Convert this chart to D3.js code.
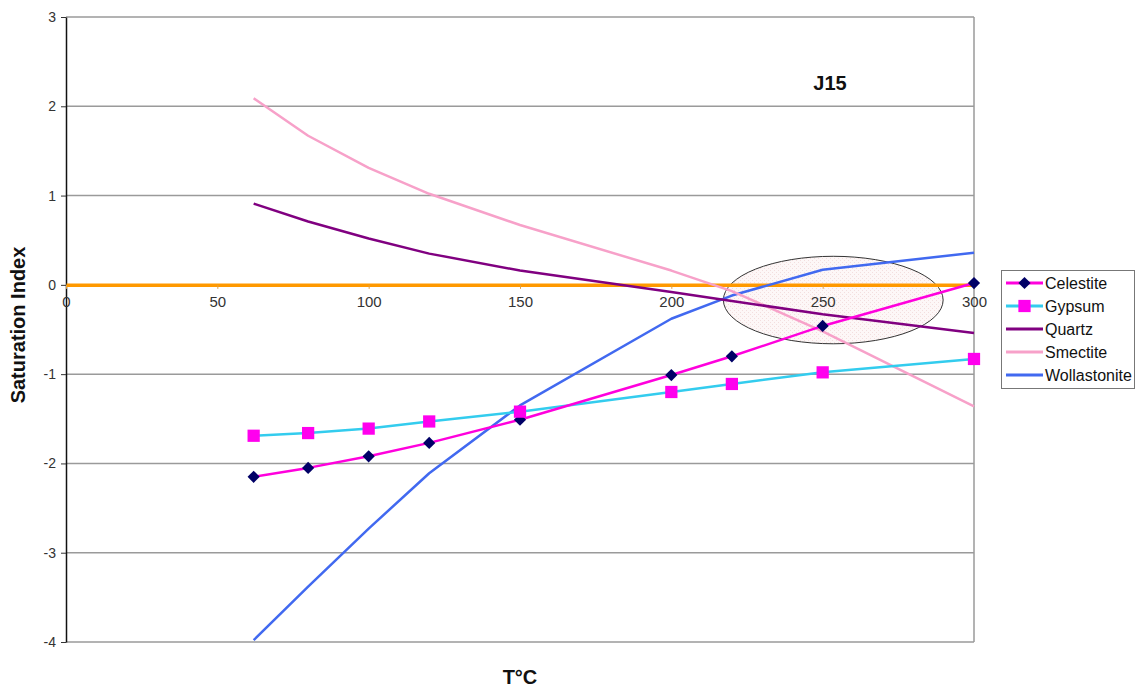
<!DOCTYPE html>
<html><head><meta charset="utf-8">
<script src="https://cdn.jsdelivr.net/npm/d3@7"></script>
<style>body{margin:0;background:#fff;} svg{display:block;font-family:"Liberation Sans",Arial,sans-serif;}</style>
</head><body>
<svg id="c" width="1136" height="689"></svg>
<script>
const temps = [62, 80, 100, 120, 150, 200, 220, 250, 300];
const celestite = [-2.15, -2.05, -1.92, -1.77, -1.51, -1.01, -0.80, -0.46, 0.02];
const gypsum = [-1.69, -1.66, -1.61, -1.53, -1.42, -1.20, -1.11, -0.98, -0.83];
const quartz = [0.91, 0.71, 0.52, 0.35, 0.16, -0.08, -0.18, -0.33, -0.54];
const smectite = [2.09, 1.67, 1.31, 1.02, 0.67, 0.16, -0.07, -0.52, -1.36];
const wollastonite = [-3.98, -3.38, -2.73, -2.11, -1.35, -0.38, -0.12, 0.17, 0.36];
const seriesNames = ["Celestite", "Gypsum", "Quartz", "Smectite", "Wollastonite"];
const xTicks = [0, 50, 100, 150, 200, 250, 300];
const yTicks = [-4, -3, -2, -1, 0, 1, 2, 3];
const wellLabel = "J15";
const highlight = {cx: 253.5, cy: -0.17, rx: 36.3, ry: 0.49};

const series = [
  {name: "Celestite", values: celestite, color: "#ff00dd", marker: "diamond", mcolor: "#000066"},
  {name: "Gypsum", values: gypsum, color: "#33ccee", marker: "square", mcolor: "#ff00ee"},
  {name: "Quartz", values: quartz, color: "#800080", marker: null},
  {name: "Smectite", values: smectite, color: "#f7a1c9", marker: null},
  {name: "Wollastonite", values: wollastonite, color: "#4169f0", marker: null}
];

const svg = d3.select("#c");
const x = d3.scaleLinear().domain([0, 300]).range([66, 974]);
const y = d3.scaleLinear().domain([-4, 3]).range([642, 17]);
const fmt = d => String(d);

// gridlines
svg.append("g").selectAll("line").data(yTicks.filter(d => d !== 0)).join("line")
  .attr("x1", x(0)).attr("x2", x(300)).attr("y1", d => y(d)).attr("y2", d => y(d))
  .attr("stroke", "#9a9a9a").attr("stroke-width", 1.5);
// right border
svg.append("line").attr("x1", x(300)).attr("x2", x(300)).attr("y1", y(3)).attr("y2", y(-4))
  .attr("stroke", "#9a9a9a").attr("stroke-width", 1.5);

// pattern for ellipse
const defs = svg.append("defs");
const pat = defs.append("pattern").attr("id", "dots").attr("width", 4).attr("height", 4)
  .attr("patternUnits", "userSpaceOnUse");
pat.append("rect").attr("width", 4).attr("height", 4).attr("fill", "#fdf7f7");
pat.append("rect").attr("width", 1).attr("height", 1).attr("fill", "#f3dede");
pat.append("rect").attr("x", 2).attr("y", 2).attr("width", 1).attr("height", 1).attr("fill", "#f3dede");

svg.append("ellipse")
  .attr("cx", x(highlight.cx)).attr("cy", y(highlight.cy))
  .attr("rx", x(highlight.rx) - x(0)).attr("ry", y(0) - y(highlight.ry))
  .attr("fill", "url(#dots)")
  .attr("stroke", "#333").attr("stroke-width", 1);

// y axis
const yAxis = svg.append("g").attr("transform", `translate(${x(0)},0)`)
  .call(d3.axisLeft(y).tickValues(yTicks).tickSize(5).tickSizeOuter(0).tickFormat(fmt));
yAxis.select(".domain").attr("stroke", "#111").attr("stroke-width", 1.5);
yAxis.selectAll(".tick line").attr("stroke", "#333");
yAxis.selectAll(".tick text").attr("font-size", 14).attr("fill", "#333").attr("x", -10)
  .attr("font-family", "Liberation Sans, Arial, sans-serif");

// x axis at zero (orange)
const xAxis = svg.append("g").attr("transform", `translate(0,${y(0)})`)
  .call(d3.axisBottom(x).tickValues(xTicks).tickSize(4).tickSizeOuter(0).tickFormat(fmt));
xAxis.select(".domain").attr("stroke", "#ff9900").attr("stroke-width", 3.5);
xAxis.selectAll(".tick line").attr("stroke", "#e0a040");
xAxis.selectAll(".tick text").attr("font-size", 15).attr("fill", "#333").attr("y", 9).attr("dy", "0.9em")
  .attr("font-family", "Liberation Sans, Arial, sans-serif");

// lines
const line = d3.line().x(d => x(d[0])).y(d => y(d[1]));
const order = ["Wollastonite", "Smectite", "Quartz", "Gypsum", "Celestite"];
order.forEach(n => {
  const s = series.find(d => d.name === n);
  svg.append("path").datum(temps.map((t, i) => [t, s.values[i]]))
    .attr("d", line).attr("fill", "none").attr("stroke", s.color).attr("stroke-width", 2.5)
    .attr("stroke-linejoin", "round");
});
// markers
series.forEach(s => {
  if (!s.marker) return;
  const sym = s.marker === "diamond" ? d3.symbol().type(d3.symbolDiamond2).size(95)
                                     : d3.symbol().type(d3.symbolSquare).size(150);
  svg.append("g").selectAll("path").data(temps.map((t, i) => [t, s.values[i]])).join("path")
    .attr("transform", d => `translate(${x(d[0])},${y(d[1])})`)
    .attr("d", sym).attr("fill", s.mcolor);
});

// labels
svg.append("text").attr("x", 830).attr("y", 90).attr("text-anchor", "middle")
  .attr("font-size", 20).attr("font-weight", "bold").attr("fill", "#111").text(wellLabel);
svg.append("text").attr("transform", "translate(25,325) rotate(-90)").attr("text-anchor", "middle")
  .attr("font-size", 20).attr("font-weight", "bold").attr("fill", "#111").text("Saturation Index");
svg.append("text").attr("x", 520).attr("y", 684).attr("text-anchor", "middle")
  .attr("font-size", 20).attr("font-weight", "bold").attr("fill", "#111").text("T°C");

// legend
const lg = svg.append("g");
lg.append("rect").attr("x", 1001.5).attr("y", 270.5).attr("width", 133).attr("height", 118)
  .attr("fill", "#fff").attr("stroke", "#777").attr("stroke-width", 1);
series.forEach((s, i) => {
  const yy = 283 + i * 23;
  lg.append("line").attr("x1", 1006).attr("x2", 1043).attr("y1", yy).attr("y2", yy)
    .attr("stroke", s.color).attr("stroke-width", 3);
  if (s.marker) {
    const sym = s.marker === "diamond" ? d3.symbol().type(d3.symbolDiamond2).size(95)
                                       : d3.symbol().type(d3.symbolSquare).size(150);
    lg.append("path").attr("transform", `translate(1024.5,${yy})`).attr("d", sym).attr("fill", s.mcolor);
  }
  lg.append("text").attr("x", 1045).attr("y", yy).attr("dy", "0.36em")
    .attr("font-size", 16).attr("fill", "#111").text(s.name);
});
</script>
</body></html>
